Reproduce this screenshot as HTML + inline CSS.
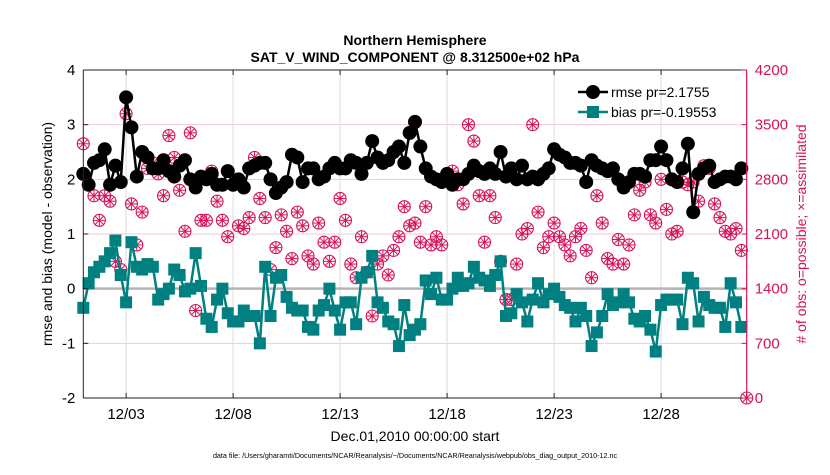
<!DOCTYPE html>
<html><head><meta charset="utf-8"><style>
body{margin:0;background:#fff;width:830px;height:470px;overflow:hidden}
svg{font-family:"Liberation Sans",Arial,sans-serif}
</style></head><body>
<svg id="chart" width="830" height="470">
<text x="415" y="45" text-anchor="middle" font-size="14" font-weight="bold">Northern Hemisphere</text>
<text x="415" y="62" text-anchor="middle" font-size="14" font-weight="bold">SAT_V_WIND_COMPONENT @ 8.312500e+02 hPa</text>
<g id="grid"></g><g id="marks"></g><g id="axes"></g>
<text transform="translate(52,234) rotate(-90)" text-anchor="middle" font-size="14">rmse and bias (model - observation)</text>
<text transform="translate(806,234) rotate(-90)" text-anchor="middle" font-size="14" fill="#d6125a"># of obs: o=possible; ×=assimilated</text>
<text x="415" y="441" text-anchor="middle" font-size="14">Dec.01,2010 00:00:00 start</text>
<text x="415" y="458" text-anchor="middle" font-size="7.2">data file: /Users/gharamti/Documents/NCAR/Reanalysis/~/Documents/NCAR/Reanalysis/webpub/obs_diag_output_2010-12.nc</text>
<g>
<line x1="578" y1="92" x2="608" y2="92" stroke="#000" stroke-width="2.5"/><circle cx="593" cy="92" r="7" fill="#000"/>
<text x="611" y="97" font-size="14">rmse pr=2.1755</text>
<line x1="578" y1="112" x2="608" y2="112" stroke="#008080" stroke-width="2.5"/><rect x="587" y="106" width="12" height="12" fill="#008080"/>
<text x="611" y="117" font-size="14">bias pr=-0.19553</text>
</g>
</svg>
<script>
const rmse=[2.1,1.9,2.3,2.35,2.55,1.9,2.25,1.95,3.5,2.95,2.05,2.5,2.4,2.2,2.2,2.35,2.15,2.05,2.25,2.35,2.0,1.85,2.05,2.0,2.1,1.9,1.9,2.15,1.9,2.0,1.85,2.2,2.25,2.3,2.3,2.0,1.75,1.85,1.95,2.45,2.4,1.95,2.2,
2.2,2.0,2.05,2.2,2.3,2.2,2.2,2.35,2.3,2.1,2.3,2.7,2.4,2.3,2.35,2.5,2.6,2.3,2.85,3.05,2.6,2.2,2.05,2.0,1.95,2.1,1.9,2.0,2.0,2.1,2.25,2.15,2.1,2.2,2.1,2.5,2.05,2.2,2.0,2.25,2.0,2.05,2.0,
2.1,2.2,2.55,2.45,2.4,2.3,2.3,2.25,1.95,2.35,2.25,2.2,2.15,2.2,2.0,1.85,1.95,2.1,2.1,2.05,2.35,2.35,2.6,2.35,2.0,1.95,2.2,2.65,1.4,2.1,2.2,2.25,1.95,2.0,2.05,2.05,2.0,2.2];
const bias=[-0.35,0.1,0.3,0.4,0.5,0.65,0.88,0.25,-0.25,0.85,0.4,0.35,0.45,0.4,-0.2,-0.1,0.0,0.35,0.25,-0.05,0.0,0.65,0.05,-0.55,-0.7,-0.2,0.0,-0.45,-0.6,-0.6,-0.4,-0.5,-0.5,-1.0,0.4,-0.5,0.2,0.25,-0.15,-0.35,-0.4,-0.4,-0.7,
-0.75,-0.4,-0.3,0.0,-0.4,-0.75,-0.25,-0.25,-0.65,0.2,0.3,0.6,-0.25,-0.35,-0.6,-0.65,-1.05,-0.3,-0.85,-0.75,-0.65,0.15,-0.1,0.2,-0.2,-0.2,0.0,0.2,0.05,0.1,0.4,0.2,0.15,0.05,0.25,0.5,-0.5,-0.45,-0.1,-0.25,-0.6,-0.2,0.1,
-0.25,-0.1,0.0,-0.15,-0.3,-0.35,-0.6,-0.35,-0.5,-1.05,-0.8,-0.5,-0.1,-0.3,-0.25,-0.1,-0.25,-0.55,-0.6,-0.5,-0.75,-1.15,-0.3,-0.2,-0.2,-0.2,-0.65,0.2,0.1,-0.6,-0.15,-0.3,-0.35,-0.35,-0.7,0.1,-0.25,-0.7];
const obsCount=[3255,2730,2590,2275,2590,2520,1750,1645,3640,2485,1960,2380,2940,3010,2870,2590,3360,3080,2660,2135,3395,1120,2275,2275,2905,2520,2275,2065,2730,2205,2170,2310,3080,2555,2310,1645,1925,2345,2135,1785,2380,2205,1820,
1715,2240,1995,1750,1995,2555,2275,1715,1540,2065,1610,1050,1715,1820,1575,1890,2065,2450,2205,2240,1995,2450,1960,2065,1960,2870,2905,2730,2485,3500,3290,2590,1995,2590,2310,1750,1260,1260,1715,2100,2170,3500,2380,
1925,2065,2240,2065,1960,1820,2065,2170,1890,1540,2590,2240,1785,1715,2030,1715,1960,2345,2660,2765,2345,2240,2800,2415,2100,2135,2765,2730,2765,2520,2975,2940,2485,2310,2135,2100,2170,1890,0];
const leftTicks=[-2,-1,0,1,2,3,4];
const rightTicks=[0,700,1400,2100,2800,3500,4200];
const xTickDays=[2,7,12,17,22,27];
const xTickLabels=["12/03","12/08","12/13","12/18","12/23","12/28"];
const stepDays=0.25;

const X0=83.3,X1=746.7,Y0=398,Y1=70;
const xs=d=>X0+(d/31)*(X1-X0);
const yL=v=>Y0-(v+2)/6*(Y0-Y1);
const yR=c=>Y0-c/4200*(Y0-Y1);
const NS="http://www.w3.org/2000/svg";
function mk(tag,attrs,parent){const e=document.createElementNS(NS,tag);for(const k in attrs)e.setAttribute(k,attrs[k]);parent.appendChild(e);return e;}
const grid=document.getElementById('grid'),marks=document.getElementById('marks'),axes=document.getElementById('axes');
const PINK="#d6125a";

leftTicks.forEach(v=>{const l=mk('line',{x1:X0,x2:X1,y1:yL(v),y2:yL(v),stroke:'#f5c9d8','stroke-width':1},grid);

});
xTickDays.forEach(d=>{const l=mk('line',{x1:xs(d),x2:xs(d),y1:Y1,y2:Y0,stroke:'#dcdcdc','stroke-width':1},grid);

});
const z=mk('line',{x1:X0,x2:X1,y1:yL(0),y2:yL(0),stroke:'#b4b4b4','stroke-width':2.5},grid);



obsCount.forEach((c,i)=>{const g=mk('g',{},marks);


const cx=xs(i*stepDays),cy=yR(c),r=6;
mk('circle',{cx,cy,r,fill:'none',stroke:PINK,'stroke-width':1.1},g);
for(let a=0;a<4;a++){const t=a*Math.PI/4;mk('line',{x1:cx-r*Math.cos(t),y1:cy-r*Math.sin(t),x2:cx+r*Math.cos(t),y2:cy+r*Math.sin(t),stroke:PINK,'stroke-width':1},g);}
});
const bp=bias.map((v,i)=>xs(i*stepDays)+','+yL(v)).join(' ');
const bl=mk('polyline',{points:bp,fill:'none',stroke:'#008080','stroke-width':2.5},marks);


bias.forEach((v,i)=>{const r=mk('rect',{x:xs(i*stepDays)-6,y:yL(v)-6,width:12,height:12,fill:'#008080'},marks);

});
const rp=rmse.map((v,i)=>xs(i*stepDays)+','+yL(v)).join(' ');
const rl=mk('polyline',{points:rp,fill:'none',stroke:'#000','stroke-width':2.5},marks);


rmse.forEach((v,i)=>{const c=mk('circle',{cx:xs(i*stepDays),cy:yL(v),r:7,fill:'#000'},marks);

});

mk('line',{x1:X0,x2:X1,y1:Y0,y2:Y0,stroke:'#222','stroke-width':1},axes);
mk('line',{x1:X0,x2:X1,y1:Y1,y2:Y1,stroke:'#222','stroke-width':1},axes);
mk('line',{x1:X0,x2:X0,y1:Y1,y2:Y0,stroke:'#222','stroke-width':1},axes);
mk('line',{x1:X1,x2:X1,y1:Y1,y2:Y0,stroke:PINK,'stroke-width':1.2},axes);
leftTicks.forEach(v=>{mk('line',{x1:X0,x2:X0+5,y1:yL(v),y2:yL(v),stroke:'#222'},axes);
const t=mk('text',{x:X0-8,y:yL(v)+5,'text-anchor':'end','font-size':15},axes);t.textContent=v;

});
rightTicks.forEach(c=>{mk('line',{x1:X1-5,x2:X1,y1:yR(c),y2:yR(c),stroke:PINK},axes);
const t=mk('text',{x:X1+8,y:yR(c)+5,'font-size':15,fill:PINK},axes);t.textContent=c;

});
xTickDays.forEach((d,i)=>{mk('line',{x1:xs(d),x2:xs(d),y1:Y0,y2:Y0-5,stroke:'#222'},axes);mk('line',{x1:xs(d),x2:xs(d),y1:Y1,y2:Y1+5,stroke:'#222'},axes);
const t=mk('text',{x:xs(d),y:Y0+21,'text-anchor':'middle','font-size':15},axes);t.textContent=xTickLabels[i];

});
</script>
</body></html>
